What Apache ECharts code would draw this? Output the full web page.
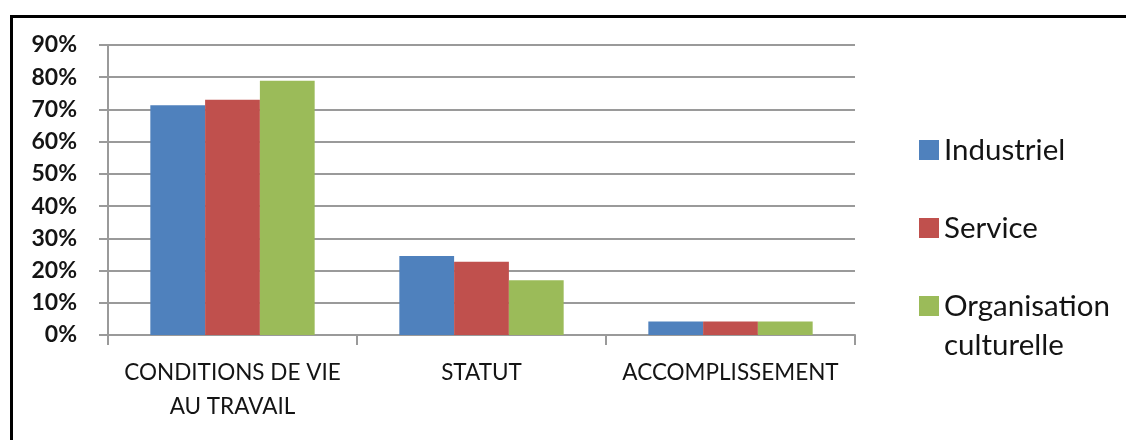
<!DOCTYPE html>
<html>
<head>
<meta charset="utf-8">
<style>
  html, body { margin: 0; padding: 0; background: #fff; }
  #chart { width: 1126px; height: 440px; }
</style>
<script src="https://cdn.jsdelivr.net/npm/echarts@6/dist/echarts.min.js"></script>
</head>
<body>
<div id="chart"></div>
<script>
// Motivation categories and the share of respondents per sector (percent)
const categories = ['CONDITIONS DE VIE\nAU TRAVAIL', 'STATUT', 'ACCOMPLISSEMENT'];
const seriesNames = ['Industriel', 'Service', 'Organisation culturelle'];
const industriel = [71.3, 24.5, 4.2];
const service = [73.0, 22.7, 4.2];
const organisationCulturelle = [78.9, 17.0, 4.2];
const colors = ['#4F81BD', '#C0504D', '#9BBB59'];

const textColor = '#141414';
const lineColor = '#9a9a9a';
const font = 'Lato, "Open Sans", sans-serif';
const legendLine = 39;

const chart = echarts.init(document.getElementById('chart'), null, { renderer: 'canvas' });

// One legend block per entry so each can be placed on its own row.
// The two-word entry wraps; a leading blank line keeps its swatch level with the first line.
function legendBlock(name, top) {
  return {
    orient: 'vertical',
    left: 919,
    top: top,
    padding: 0,
    itemWidth: 20,
    itemHeight: 20,
    icon: 'rect',
    selectedMode: false,
    textStyle: {
      fontFamily: font,
      fontSize: 29.5,
      color: textColor,
      lineHeight: legendLine
    },
    formatter: n => n === 'Organisation culturelle' ? '\nOrganisation\nculturelle' : n,
    data: [name]
  };
}

const option = {
  animation: false,
  color: colors,
  grid: { left: 108, right: 271, top: 45, bottom: 105 },
  legend: [
    legendBlock(seriesNames[0], 150 - legendLine / 2),
    legendBlock(seriesNames[1], 228 - legendLine / 2),
    legendBlock(seriesNames[2], 306 - legendLine * 1.5)
  ],
  xAxis: {
    type: 'category',
    data: categories,
    axisLine: { lineStyle: { color: lineColor, width: 2 } },
    axisTick: { show: true, length: 10, lineStyle: { color: lineColor, width: 2 } },
    axisLabel: {
      margin: 21,
      fontFamily: font,
      fontSize: 22.5,
      lineHeight: 34,
      color: textColor,
      interval: 0
    }
  },
  yAxis: {
    type: 'value',
    min: 0,
    max: 90,
    interval: 10,
    axisLine: { show: true, lineStyle: { color: lineColor, width: 2 } },
    axisTick: { show: true, length: 9, lineStyle: { color: lineColor, width: 2 } },
    splitLine: { lineStyle: { color: lineColor, width: 2 } },
    axisLabel: {
      margin: 31,
      formatter: '{value}%',
      fontFamily: font,
      fontSize: 23,
      fontWeight: 'bold',
      color: textColor
    }
  },
  series: [
    { name: seriesNames[0], type: 'bar', data: industriel, barGap: '0%', barCategoryGap: '34%' },
    { name: seriesNames[1], type: 'bar', data: service, barGap: '0%', barCategoryGap: '34%' },
    { name: seriesNames[2], type: 'bar', data: organisationCulturelle, barGap: '0%', barCategoryGap: '34%' }
  ],
  graphic: [{
    type: 'rect',
    silent: true,
    z: 100,
    shape: { x: 11.5, y: 16.5, width: 1300, height: 600 },
    style: { fill: 'none', stroke: '#000', lineWidth: 3 }
  }]
};

chart.setOption(option);
</script>
</body>
</html>
